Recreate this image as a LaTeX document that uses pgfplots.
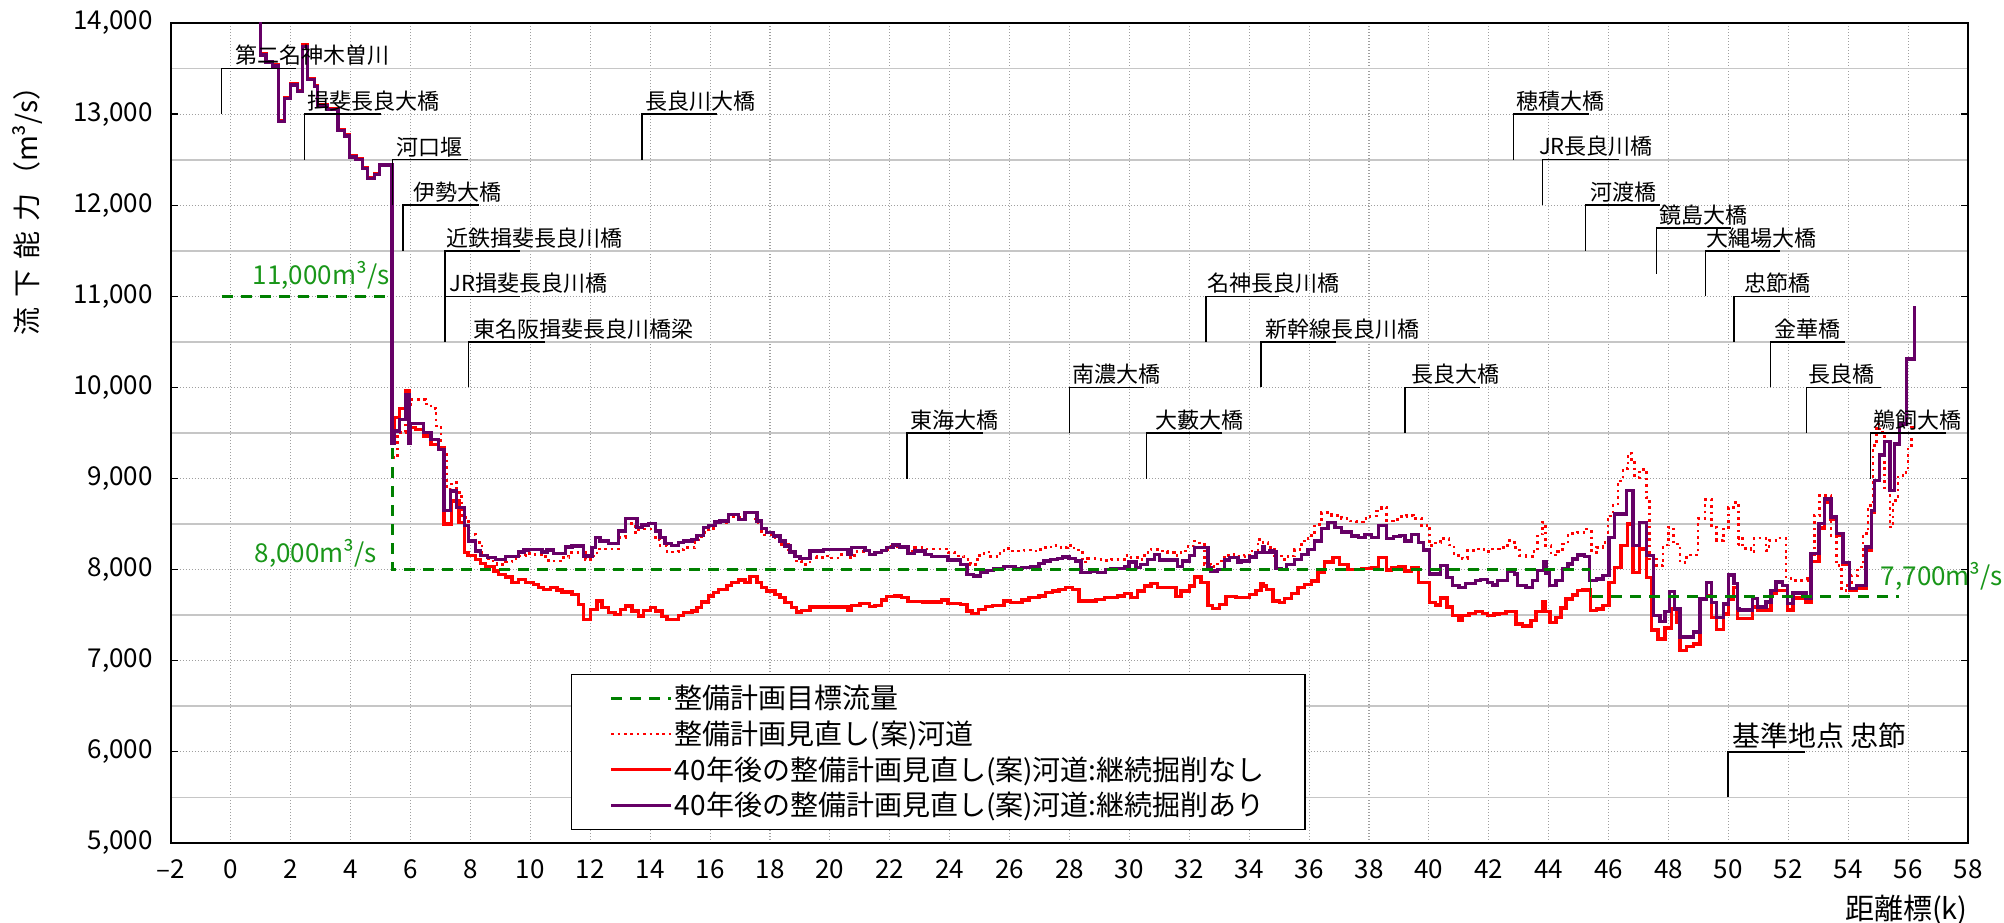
\documentclass[border=0pt]{standalone}
\usepackage{fontspec}
\setmainfont{Noto Sans CJK JP}
\usepackage{pgfplots}
\pgfplotsset{compat=1.18}
\usetikzlibrary{calc}
\definecolor{cgreen}{RGB}{0,128,0}
\definecolor{clabgreen}{RGB}{25,150,25}
\definecolor{cpurple}{RGB}{102,0,102}
\definecolor{cred}{RGB}{255,0,0}
\newcommand{\brk}[6]{\draw[black,line width=0.75pt] (axis cs:#1,#2) -- (axis cs:#1,#3) -- (axis cs:#4,#3);
  \node[anchor=south west,inner sep=0pt,yshift=1.2pt,font=\fontsize{11}{13}\selectfont] at (axis cs:#5,#3) {#6};}
\begin{document}
\begin{tikzpicture}
\begin{axis}[
 name=ax,
 scale only axis, width=898.5pt, height=410pt,
 xmin=-2, xmax=58, ymin=5000, ymax=14000,
 xtick={-2,0,...,58},
 xticklabels={–2,0,2,4,6,8,10,12,14,16,18,20,22,24,26,28,30,32,34,36,38,40,42,44,46,48,50,52,54,56,58},
 ytick={5000,6000,...,14000},
 yticklabels={{5,000},{6,000},{7,000},{8,000},{9,000},{10,000},{11,000},{12,000},{13,000},{14,000}},
 minor ytick={5500,6500,...,13500},
 xmajorgrids, ymajorgrids, yminorgrids,
 major grid style={draw=gray!75, dash pattern=on 0.6pt off 0.9pt, line width=0.55pt},
 minor grid style={draw=gray!45, line width=0.9pt},
 tick align=inside,
 major tick length=3.5pt, minor tick length=0pt,
 xtick style={draw=none},
 ytick style={black, line width=0.6pt},
 tick label style={font=\fontsize{13}{15}\selectfont},
 yticklabel style={xshift=-5.7pt, inner ysep=0.5pt},
 xticklabel style={yshift=-5pt},
 axis line style={black, line width=0.9pt},
 clip mode=individual,
 legend style={at={(0.2225,0.01556)}, anchor=south west, draw=black, line width=0.75pt, fill=white,
   font=\fontsize{14}{16}\selectfont, inner xsep=19pt, inner ysep=3pt,
   nodes={inner xsep=1pt, inner ysep=2.3pt}},
 legend cell align=left,
 legend image code/.code={\draw[#1] (0pt,0pt) -- (30pt,0pt);},
]
\addlegendimage{cgreen, line width=1.5pt, dash pattern=on 5.5pt off 4pt}
\addlegendentry{整備計画目標流量}
\addlegendimage{cred, line width=1.3pt, dash pattern=on 1.3pt off 1.9pt}
\addlegendentry{整備計画見直し(案)河道}
\addlegendimage{cred, line width=1.7pt}
\addlegendentry{40年後の整備計画見直し(案)河道:継続掘削なし}
\addlegendimage{cpurple, line width=1.7pt}
\addlegendentry{40年後の整備計画見直し(案)河道:継続掘削あり}

% dotted: plan revision channel
\addplot[forget plot, const plot, cred, line width=1.3pt, dash pattern=on 1.3pt off 1.9pt] table {
x y
5.38 9230
5.57 9504
5.83 9760
6.00 9869
6.51 9820
6.68 9770
6.85 9577
7.02 9303
7.19 8883
7.36 8956
7.53 8850
7.70 8573
7.94 8388
8.17 8296
8.39 8157
8.61 8095
8.89 8058
9.17 8084
9.39 8121
9.61 8150
9.83 8179
10.06 8168
10.44 8143
10.61 8095
11.06 8132
11.28 8186
11.83 8113
12.06 8150
12.22 8227
12.94 8351
13.17 8505
13.50 8406
13.61 8446
14.17 8333
14.33 8267
14.56 8194
14.94 8223
15.11 8241
15.50 8325
15.72 8406
15.94 8450
16.17 8516
16.61 8578
17.17 8625
17.50 8516
17.72 8380
18.17 8333
18.39 8278
18.61 8186
18.83 8095
19.06 8058
19.33 8143
19.56 8132
19.83 8150
20.06 8128
20.39 8168
20.61 8132
20.83 8201
21.39 8168
21.61 8216
21.94 8252
22.61 8205
22.83 8241
23.17 8227
23.94 8186
24.17 8150
24.47 8113
24.69 8058
24.92 8157
25.14 8194
25.36 8143
25.58 8179
25.81 8230
26.03 8205
26.48 8216
26.81 8205
27.04 8241
27.26 8249
27.48 8267
27.71 8241
27.93 8267
28.15 8216
28.43 8084
28.60 8121
28.93 8113
29.16 8102
29.38 8113
29.83 8157
30.05 8132
30.27 8113
30.50 8186
30.72 8223
30.94 8205
31.28 8186
31.50 8157
31.72 8205
31.95 8260
32.17 8314
32.34 8278
32.50 8058
32.73 8033
32.95 8095
33.17 8157
33.40 8165
33.62 8143
33.84 8157
34.01 8205
34.29 8333
34.46 8296
34.63 8241
34.85 8150
35.07 8113
35.29 8150
35.52 8223
35.74 8314
35.96 8377
36.19 8497
36.41 8625
36.75 8596
37.08 8559
37.36 8534
37.58 8523
37.81 8559
38.03 8589
38.25 8643
38.42 8680
38.59 8534
38.81 8552
39.03 8581
39.26 8596
39.48 8559
39.76 8479
39.93 8489
40.02 8263
40.22 8292
40.39 8343
40.67 8270
40.84 8153
41.12 8124
41.28 8208
41.56 8226
41.84 8197
42.12 8226
42.35 8245
42.63 8318
42.85 8245
43.02 8153
43.24 8146
43.46 8197
43.63 8391
43.80 8518
43.89 8263
44.08 8161
44.30 8197
44.47 8281
44.64 8372
44.80 8402
44.97 8409
45.25 8445
45.42 8190
45.59 8245
45.81 8300
45.98 8591
46.15 8719
46.31 8975
46.48 9110
46.65 9278
46.76 9212
46.87 9011
47.04 9102
47.26 8792
47.37 8117
47.60 8044
47.82 8270
47.99 8464
48.16 8281
48.38 8080
48.60 8161
48.99 8562
49.22 8767
49.44 8464
49.61 8318
49.83 8445
50.00 8683
50.17 8737
50.34 8245
50.36 8358
50.47 8230
50.75 8193
50.86 8347
51.25 8212
51.36 8321
51.59 8347
51.92 7920
52.09 7883
52.65 7901
52.76 8084
52.87 8595
53.04 8814
53.43 8376
53.60 8047
53.77 7774
53.93 7828
54.10 7938
54.32 8029
54.49 8394
54.66 8704
54.83 9361
54.94 9599
55.05 9507
55.22 8879
55.39 8467
55.50 8759
55.66 9015
55.83 9069
56.00 9361
56.11 9562
56.20 9562
};

% red solid: 40 years, no continued excavation
\addplot[forget plot, const plot, cred, line width=1.7pt] table {
x y
0.98 14300
0.98 13660
1.17 13580
1.39 13540
1.58 12930
1.78 13180
1.98 13330
2.23 13260
2.40 13760
2.56 13390
2.79 13310
2.90 13100
3.23 13060
3.57 12830
3.79 12770
3.96 12540
4.18 12510
4.40 12410
4.57 12300
4.79 12350
4.96 12450
5.38 9400
5.45 9668
5.63 9767
5.83 9960
5.95 9559
6.17 9540
6.43 9467
6.68 9376
6.94 9340
7.11 8500
7.36 8755
7.62 8518
7.79 8190
7.92 8157
8.17 8113
8.33 8069
8.50 8033
8.78 7985
8.94 7949
9.17 7920
9.39 7857
9.61 7894
9.83 7857
10.11 7839
10.28 7803
10.44 7784
10.67 7803
10.89 7777
11.06 7755
11.39 7729
11.61 7620
11.78 7455
12.00 7565
12.22 7656
12.39 7583
12.61 7528
12.83 7510
13.00 7565
13.17 7601
13.39 7547
13.61 7492
13.78 7554
14.00 7583
14.17 7547
14.39 7484
14.56 7455
14.94 7499
15.11 7528
15.39 7547
15.56 7583
15.72 7645
15.94 7711
16.11 7748
16.28 7784
16.56 7828
16.72 7857
16.94 7887
17.17 7857
17.33 7923
17.56 7857
17.72 7803
17.89 7766
18.17 7729
18.33 7693
18.50 7638
18.72 7583
18.89 7536
19.06 7554
19.33 7591
20.61 7554
20.72 7609
21.00 7631
21.33 7594
21.50 7609
21.72 7667
21.89 7704
22.17 7711
22.39 7693
22.61 7649
23.11 7645
23.72 7667
23.94 7631
24.36 7620
24.58 7547
24.75 7521
24.97 7565
25.19 7594
25.42 7609
25.81 7656
26.03 7638
26.42 7667
26.65 7693
26.98 7711
27.20 7748
27.43 7766
27.65 7784
27.87 7803
28.10 7784
28.32 7656
28.88 7675
29.16 7693
29.60 7711
29.83 7740
30.05 7693
30.27 7766
30.50 7821
30.72 7846
30.94 7803
31.56 7704
31.72 7766
32.00 7821
32.17 7920
32.39 7857
32.62 7609
32.78 7572
33.01 7620
33.23 7704
33.56 7693
34.01 7729
34.23 7773
34.40 7850
34.46 7821
34.57 7784
34.79 7656
35.02 7638
35.18 7682
35.41 7740
35.63 7803
35.85 7839
36.08 7876
36.30 7967
36.52 8084
36.80 8132
37.02 8058
37.30 8004
37.75 8011
38.08 8022
38.31 8132
38.59 7996
38.75 8022
38.98 8033
39.20 7985
39.42 8022
39.65 7857
40.02 7642
40.22 7613
40.39 7690
40.61 7588
40.78 7496
41.01 7442
41.12 7496
41.34 7521
41.56 7540
41.79 7521
41.96 7496
42.18 7514
42.35 7521
42.57 7540
42.91 7405
43.13 7380
43.41 7442
43.58 7540
43.80 7650
43.89 7540
44.04 7423
44.25 7478
44.41 7577
44.58 7679
44.80 7723
44.97 7770
45.14 7777
45.39 7551
45.59 7569
45.81 7606
46.01 7861
46.20 8026
46.42 8263
46.63 8500
46.82 7971
47.04 8226
47.26 7916
47.43 7339
47.65 7241
47.88 7358
48.10 7569
48.27 7423
48.38 7113
48.60 7157
48.83 7186
49.05 7679
49.27 7716
49.44 7478
49.61 7343
49.83 7515
50.00 7679
50.17 7807
50.30 7463
50.80 7591
50.97 7555
51.42 7737
51.59 7774
51.98 7555
52.15 7690
52.59 7646
52.76 8091
53.02 8456
53.21 8741
53.43 8558
53.60 8376
53.82 8055
54.04 7774
54.27 7800
54.60 8212
54.77 8632
54.88 8978
55.05 9259
55.22 9405
55.39 8869
55.55 9380
55.72 9599
55.94 10311
56.22 10311
};

% purple: 40 years, with continued excavation
\addplot[forget plot, const plot, cpurple, line width=1.7pt] table {
x y
0.98 14300
0.98 13650
1.17 13570
1.39 13530
1.58 12920
1.78 13170
1.98 13320
2.23 13250
2.40 13740
2.56 13380
2.79 13300
2.90 13090
3.23 13050
3.57 12820
3.79 12760
3.96 12530
4.18 12500
4.40 12400
4.57 12290
4.79 12340
4.96 12440
5.38 9390
5.45 9520
5.63 9650
5.83 9920
5.95 9390
6.00 9606
6.43 9504
6.68 9431
6.94 9321
7.11 8646
7.33 8865
7.53 8683
7.79 8482
7.94 8314
8.17 8205
8.33 8157
8.56 8132
8.83 8113
9.17 8143
9.61 8194
9.78 8216
9.94 8223
10.39 8194
10.56 8216
10.78 8179
11.17 8249
11.39 8260
11.78 8150
12.06 8241
12.17 8351
12.33 8314
12.61 8289
12.94 8424
13.17 8563
13.56 8461
13.72 8490
13.94 8505
14.17 8424
14.33 8351
14.50 8289
14.72 8267
14.94 8296
15.11 8314
15.39 8333
15.56 8377
15.78 8461
15.94 8486
16.17 8523
16.33 8534
16.61 8607
16.94 8552
17.17 8625
17.56 8534
17.72 8450
17.89 8406
18.11 8369
18.33 8314
18.50 8260
18.67 8194
18.83 8143
19.00 8121
19.33 8205
19.78 8223
20.61 8168
20.72 8241
21.17 8212
21.33 8168
21.50 8186
21.72 8212
21.89 8241
22.11 8271
22.33 8249
22.61 8179
22.83 8205
23.17 8168
23.39 8143
23.94 8106
24.36 8058
24.58 7949
24.80 7931
25.03 7967
25.25 7993
25.47 8011
25.81 8033
26.20 8011
26.42 8022
26.70 8033
26.98 8066
27.15 8095
27.37 8113
27.59 8124
27.76 8139
27.98 8124
28.21 8095
28.38 7967
28.71 7985
28.93 7967
29.21 8004
29.38 8011
29.83 8033
29.99 8084
30.22 8022
30.38 8058
30.61 8113
30.83 8168
31.00 8106
31.50 8113
31.61 8033
31.78 8095
32.00 8157
32.17 8241
32.62 8022
32.73 7985
32.95 8004
33.17 8106
33.34 8132
33.62 8077
33.73 8095
34.01 8139
34.23 8186
34.46 8249
34.51 8186
34.68 8205
34.79 8194
34.90 8011
35.07 8004
35.24 8058
35.52 8113
35.74 8168
35.96 8223
36.19 8314
36.41 8450
36.63 8516
36.86 8461
37.08 8413
37.42 8369
37.64 8351
37.86 8388
38.08 8351
38.31 8486
38.59 8340
38.81 8362
39.03 8377
39.20 8314
39.42 8388
39.65 8296
39.81 8216
40.02 7953
40.39 8044
40.61 7916
40.78 7825
41.01 7807
41.23 7850
41.56 7880
41.73 7891
41.96 7861
42.12 7832
42.29 7880
42.63 7978
42.85 7953
42.96 7825
43.24 7807
43.46 7880
43.63 7989
43.82 8088
43.91 7964
44.02 7825
44.25 7880
44.47 8007
44.64 8062
44.80 8117
44.97 8161
45.20 8142
45.36 7880
45.59 7898
45.81 7934
46.01 8354
46.20 8610
46.59 8872
46.82 8263
47.04 8518
47.26 8153
47.49 7496
47.71 7431
47.88 7540
48.04 7759
48.21 7569
48.38 7259
48.83 7314
49.05 7679
49.27 7861
49.44 7642
49.61 7478
49.83 7624
50.00 7942
50.19 7847
50.30 7573
50.36 7555
50.80 7682
50.97 7591
51.25 7646
51.42 7774
51.59 7865
51.81 7828
51.98 7628
52.15 7745
52.59 7682
52.76 8175
53.02 8504
53.21 8777
53.43 8577
53.60 8394
53.82 8077
54.04 7792
54.27 7828
54.60 8248
54.77 8650
54.88 8978
55.05 9259
55.22 9405
55.39 8869
55.55 9380
55.72 9599
55.94 10311
56.22 10894
};

% target discharge
\addplot[forget plot, cgreen, line width=1.5pt, dash pattern=on 5.5pt off 4pt] coordinates {(-0.31,11000) (5.24,11000)};
\addplot[forget plot, cgreen, line width=1.5pt, dash pattern=on 5.5pt off 4pt] coordinates {(5.38,9330) (5.38,8000) (45.39,8000)};
\addplot[forget plot, cgreen, line width=0.8pt] coordinates {(45.39,8000) (45.39,7700)};
\addplot[forget plot, cgreen, line width=1.5pt, dash pattern=on 5.5pt off 4pt] coordinates {(45.45,7700) (55.7,7700)};

\node[anchor=west, inner sep=0pt, text=clabgreen, font=\fontsize{13}{15}\selectfont] at (axis cs:0.72,11230) {11,000m³/s};
\node[anchor=east, inner sep=0pt, text=clabgreen, font=\fontsize{13}{15}\selectfont] at (axis cs:4.88,8175) {8,000m³/s};
\node[anchor=west, inner sep=0pt, text=clabgreen, font=\fontsize{13}{15}\selectfont] at (axis cs:55.08,7923) {7,700m³/s};

\brk{-0.32}{13000}{13500}{2.17}{0.15}{第二名神木曽川}
\brk{2.45}{12500}{13000}{5.0}{2.55}{揖斐長良大橋}
\brk{5.40}{12000}{12500}{7.90}{5.52}{河口堰}
\brk{5.75}{11500}{12000}{8.28}{6.08}{伊勢大橋}
\brk{7.15}{11000}{11500}{9.65}{7.20}{近鉄揖斐長良川橋}
\brk{7.15}{10500}{11000}{9.65}{7.30}{JR揖斐長良川橋}
\brk{7.94}{10000}{10500}{10.48}{8.10}{東名阪揖斐長良川橋梁}
\brk{13.72}{12500}{13000}{16.22}{13.83}{長良川大橋}
\brk{22.57}{9000}{9500}{25.11}{22.67}{東海大橋}
\brk{28.0}{9500}{10000}{30.5}{28.1}{南濃大橋}
\brk{30.57}{9000}{9500}{33.09}{30.87}{大藪大橋}
\brk{32.55}{10500}{11000}{35.0}{32.6}{名神長良川橋}
\brk{34.39}{10000}{10500}{36.89}{34.54}{新幹線長良川橋}
\brk{39.2}{9500}{10000}{41.72}{39.4}{長良大橋}
\brk{42.83}{12500}{13000}{45.34}{42.92}{穂積大橋}
\brk{43.8}{12000}{12500}{46.35}{43.67}{JR長良川橋}
\brk{45.23}{11500}{12000}{47.72}{45.38}{河渡橋}
\brk{47.6}{11250}{11750}{50.08}{47.68}{鏡島大橋}
\brk{49.23}{11000}{11500}{51.71}{49.24}{大縄場大橋}
\brk{50.18}{10500}{11000}{52.72}{50.53}{忠節橋}
\brk{51.4}{10000}{10500}{53.9}{51.52}{金華橋}
\brk{52.61}{9500}{10000}{55.1}{52.65}{長良橋}
\brk{54.74}{9000}{9500}{57.28}{54.83}{鵜飼大橋}
\draw[black,line width=0.75pt] (axis cs:49.98,5500) -- (axis cs:49.98,6000) -- (axis cs:52.55,6000);
\node[anchor=south west,inner sep=0pt,yshift=1.5pt,font=\fontsize{14}{16}\selectfont] at (axis cs:50.12,6000) {基準地点\ 忠節};
\end{axis}
\node[rotate=90, inner sep=0pt, font=\fontsize{14}{16}\selectfont] at ($(ax.south west)!0.779!(ax.north west)+(-71.5pt,0)$) {流\hspace{5pt}下\hspace{5pt}能\hspace{5pt}力\hspace{2pt}（m³/s）};
\node[anchor=east, inner sep=0pt, font=\fontsize{14.5}{16}\selectfont] at ($(ax.south east)+(0,-33.5pt)$) {距離標(k)};
\pgfresetboundingbox
\path[use as bounding box] ($(ax.south west)+(-85.5pt,-40pt)$) rectangle ($(ax.north east)+(18pt,11.5pt)$);
\end{tikzpicture}
\end{document}
